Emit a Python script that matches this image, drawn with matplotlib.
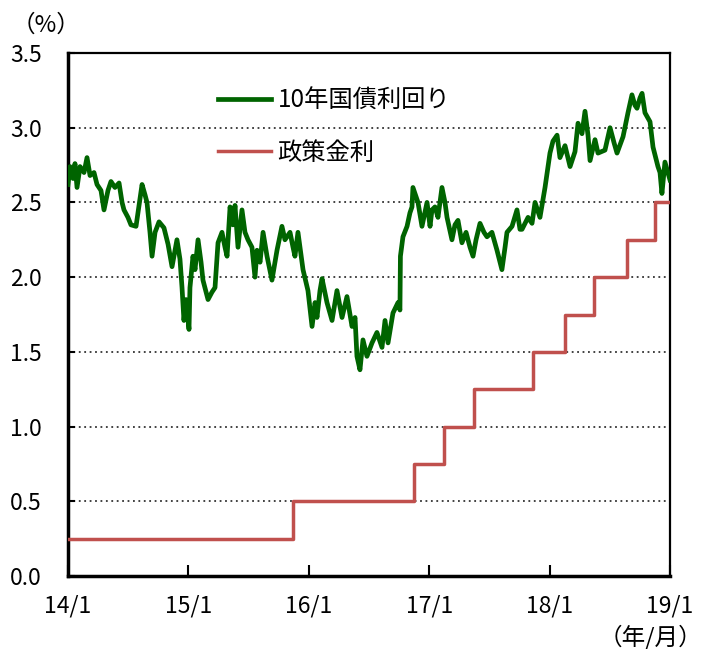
import numpy as np
import matplotlib
matplotlib.use("Agg")
import matplotlib.pyplot as plt

plt.rcParams['font.family'] = ['Noto Sans CJK JP', 'DejaVu Sans']

# time in years since 2014/1
yield_t = [0.000, 0.017, 0.042, 0.058, 0.075, 0.100, 0.133, 0.158, 0.183, 0.216,
           0.241, 0.274, 0.299, 0.332, 0.357, 0.390, 0.424, 0.449, 0.465, 0.498,
           0.523, 0.565, 0.590, 0.615, 0.640, 0.656, 0.681, 0.698, 0.723, 0.756,
           0.797, 0.831, 0.864, 0.905, 0.930, 0.947, 0.963, 0.980, 1.005, 1.013,
           1.038, 1.055, 1.080, 1.105, 1.121, 1.163, 1.196, 1.221, 1.246, 1.279,
           1.304, 1.321, 1.346, 1.370, 1.387, 1.412, 1.445, 1.470, 1.495, 1.528,
           1.553, 1.570, 1.595, 1.620, 1.653, 1.694, 1.736, 1.777, 1.802, 1.844,
           1.869, 1.885, 1.910, 1.927, 1.952, 1.993, 2.027, 2.052, 2.068, 2.093,
           2.110, 2.151, 2.193, 2.234, 2.276, 2.317, 2.359, 2.384, 2.400, 2.425,
           2.450, 2.483, 2.525, 2.566, 2.608, 2.633, 2.658, 2.699, 2.741, 2.757,
           2.761, 2.782, 2.816, 2.840, 2.857, 2.865, 2.890, 2.907, 2.940, 2.982,
           3.007, 3.023, 3.048, 3.073, 3.106, 3.131, 3.148, 3.189, 3.214, 3.239,
           3.272, 3.306, 3.339, 3.364, 3.389, 3.422, 3.455, 3.480, 3.521, 3.563,
           3.604, 3.630, 3.646, 3.688, 3.729, 3.754, 3.771, 3.821, 3.854, 3.879,
           3.920, 3.962, 4.003, 4.028, 4.062, 4.086, 4.128, 4.170, 4.211, 4.236,
           4.269, 4.294, 4.319, 4.336, 4.377, 4.402, 4.460, 4.502, 4.535, 4.560,
           4.610, 4.651, 4.684, 4.709, 4.726, 4.751, 4.768, 4.792, 4.834, 4.859,
           4.900, 4.917, 4.933, 4.958, 4.983, 5.000]
yield_10y = [2.62, 2.74, 2.66, 2.76, 2.60, 2.74, 2.70, 2.80, 2.68, 2.70,
             2.62, 2.58, 2.45, 2.58, 2.64, 2.60, 2.63, 2.50, 2.45, 2.40,
             2.35, 2.34, 2.48, 2.62, 2.55, 2.50, 2.30, 2.14, 2.30, 2.37,
             2.33, 2.22, 2.07, 2.25, 2.12, 1.93, 1.71, 1.85, 1.65, 1.93,
             2.14, 2.05, 2.25, 2.10, 1.98, 1.85, 1.90, 1.93, 2.23, 2.30,
             2.20, 2.14, 2.47, 2.35, 2.48, 2.20, 2.45, 2.30, 2.25, 2.20,
             2.00, 2.18, 2.10, 2.30, 2.14, 1.98, 2.18, 2.34, 2.25, 2.30,
             2.20, 2.14, 2.30, 2.20, 2.05, 1.91, 1.67, 1.83, 1.73, 1.91,
             1.99, 1.83, 1.71, 1.91, 1.73, 1.87, 1.67, 1.73, 1.47, 1.38,
             1.58, 1.47, 1.56, 1.63, 1.53, 1.71, 1.56, 1.76, 1.83, 1.78,
             2.14, 2.27, 2.34, 2.43, 2.47, 2.60, 2.54, 2.50, 2.34, 2.50,
             2.34, 2.45, 2.47, 2.40, 2.60, 2.50, 2.40, 2.25, 2.35, 2.38,
             2.23, 2.30, 2.20, 2.14, 2.25, 2.36, 2.30, 2.27, 2.30, 2.18,
             2.05, 2.20, 2.30, 2.34, 2.45, 2.32, 2.32, 2.40, 2.36, 2.50,
             2.40, 2.60, 2.83, 2.91, 2.95, 2.80, 2.88, 2.74, 2.84, 3.03,
             2.96, 3.11, 2.95, 2.78, 2.92, 2.83, 2.85, 3.00, 2.90, 2.83,
             2.94, 3.10, 3.22, 3.15, 3.13, 3.20, 3.23, 3.10, 3.04, 2.87,
             2.74, 2.70, 2.56, 2.77, 2.70, 2.65]

# policy rate: value holds from each change point
rate_t = [0.000, 1.869, 2.874, 3.123, 3.372, 3.862, 4.128, 4.369, 4.643, 4.875, 5.000]
policy_rate = [0.25, 0.50, 0.75, 1.00, 1.25, 1.50, 1.75, 2.00, 2.25, 2.50, 2.50]

xtick_pos = [0, 1, 2, 3, 4, 5]
xtick_labels = ['14/1', '15/1', '16/1', '17/1', '18/1', '19/1']
ytick_pos = [0.0, 0.5, 1.0, 1.5, 2.0, 2.5, 3.0, 3.5]

green = '#006400'
red = '#C0504D'

fig = plt.figure(figsize=(7.04, 6.49), dpi=100)
ax = fig.add_axes([68/704, 73/649, 602/704, 523/649])

ax.plot(yield_t, yield_10y, color=green, linewidth=3.4, solid_joinstyle='round',
        label='10年国債利回り', zorder=3)
ax.step(rate_t, policy_rate, where='post', color=red, linewidth=2.5,
        label='政策金利', zorder=3)

ax.set_xlim(0, 5)
ax.set_ylim(0, 3.5)
ax.set_xticks(xtick_pos)
ax.set_xticklabels(xtick_labels)
ax.set_yticks(ytick_pos)
ax.set_yticklabels(['%.1f' % v for v in ytick_pos])

# dotted gridlines only inside
for v in ytick_pos[1:-1]:
    ax.axhline(v, color='#333333', linestyle=(0, (1, 2)), linewidth=1.3, zorder=1)

ax.tick_params(axis='x', direction='in', length=8, width=1.5, pad=13, labelsize=16.5)
ax.tick_params(axis='y', direction='in', length=5, width=1.5, pad=19, labelsize=16.5)

for side in ['left', 'bottom']:
    ax.spines[side].set_linewidth(2.5)
for side in ['top', 'right']:
    ax.spines[side].set_linewidth(1.6)

ax.legend(loc='upper left', bbox_to_anchor=(0.249, 0.934), frameon=False,
          fontsize=17.5, handlelength=2.2, handletextpad=0.25, labelspacing=1.08,
          borderpad=0, borderaxespad=0)

fig.text(46/704, 1 - 25/649, '（%）', fontsize=17, va='center', ha='center')
fig.text(702/704, 1 - 637/649, '（年/月）', fontsize=17, va='center', ha='right')

fig.savefig('out.png', dpi=100)
